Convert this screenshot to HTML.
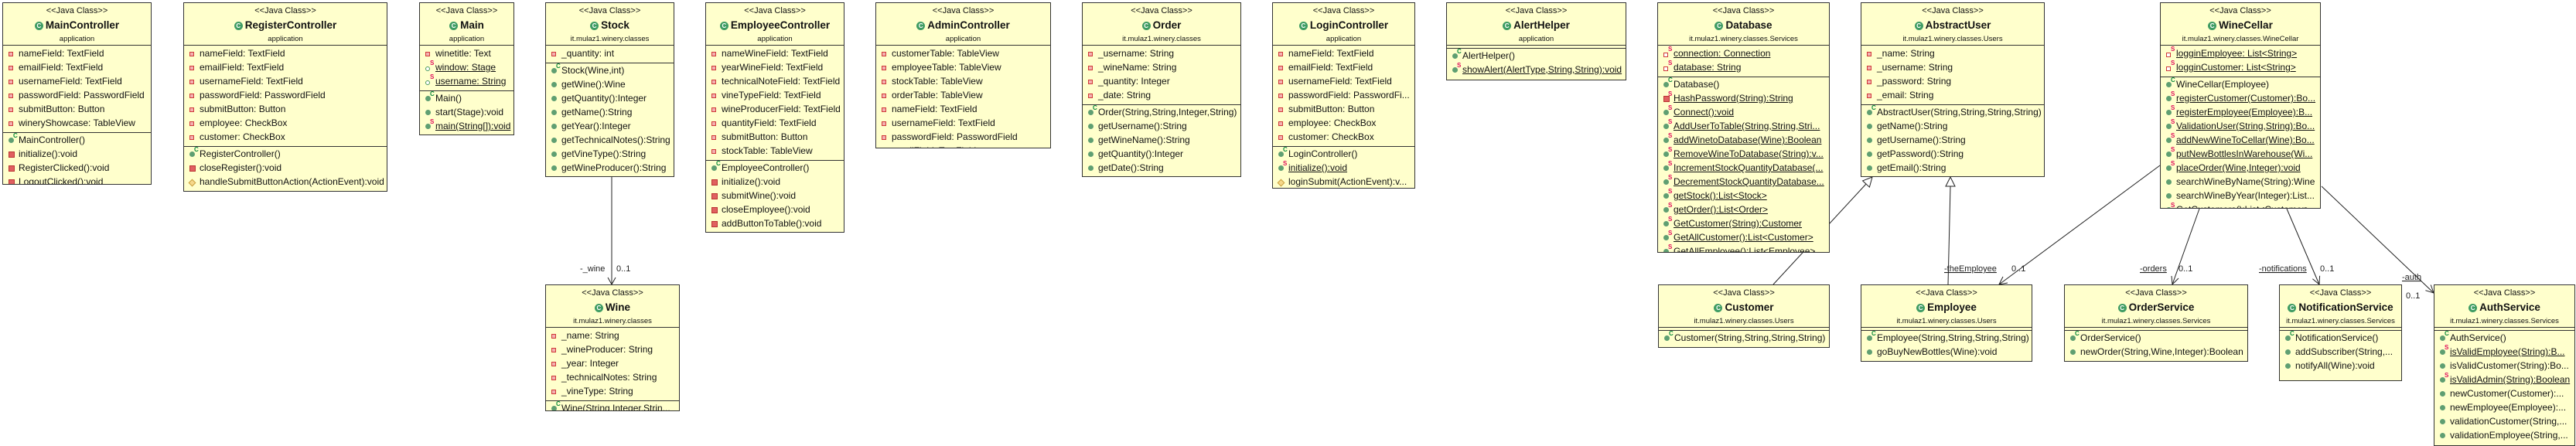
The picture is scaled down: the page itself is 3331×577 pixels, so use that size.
<!DOCTYPE html>
<html><head><meta charset="utf-8">
<style>
html,body{margin:0;padding:0;background:#fff;}
body{width:3331px;height:577px;position:relative;overflow:hidden;font-family:"Liberation Sans",Arial,sans-serif;color:#111;}
.b{position:absolute;box-sizing:border-box;background:#ffffcc;border:1px solid #333;overflow:hidden;}
.h{height:54px;border-bottom:1px solid #333;text-align:center;position:relative;}
.h .st{position:absolute;left:0;right:0;top:4px;font-size:11px;line-height:12px;}
.h .nm{position:absolute;left:0;right:0;top:20px;font-size:13.5px;font-weight:bold;line-height:18px;white-space:nowrap;}
.h .nm em{display:inline-block;width:11px;height:11px;border-radius:50%;background:#3f9c63;color:#fff;font-style:normal;font-size:8px;line-height:11px;vertical-align:1px;margin-right:3px;text-align:center;}
.h .pk{position:absolute;left:0;right:0;top:41px;font-size:9.5px;line-height:11px;white-space:nowrap;}
.s{border-bottom:1px solid #333;padding:1px 0 3px 0;}
.s.e{padding:0;height:3px;}
.r{position:relative;height:18px;line-height:18px;padding-left:20px;white-space:nowrap;font-size:12px;}
.r i{position:absolute;left:7px;top:7px;width:5px;height:5px;}
.f i{background:#f3b0b0;border:1px solid #d03a3a;width:4px;height:4px;}
.m i{background:#5f9f72;border-radius:50%;width:7px;height:7px;top:6px;}
.p i{background:#e06060;border:1px solid #b33;width:6px;height:6px;top:6px;}
.d i{background:#f6d88a;border:1px solid #c9a040;transform:rotate(45deg);width:5px;height:5px;}
.fs i{background:#fff;border:1px solid #4a9a60;border-radius:50%;width:4px;height:4px;top:8px;}
.fsp i{background:#fff;border:1px solid #d03a3a;width:4px;height:4px;top:8px;}
.r sup{position:absolute;left:13px;top:-5px;font-size:8px;font-weight:bold;}
.c sup{color:#0a8a3a;}
.z sup{color:#e0105a;}
.r u{text-decoration:underline;}
svg{position:absolute;left:0;top:0;}
</style></head><body>

<svg width="3331" height="577" viewBox="0 0 3331 577" font-family="Liberation Sans, Arial, sans-serif" font-size="11">
<g stroke="#222" stroke-width="1" fill="none">
<line x1="791" y1="229" x2="791" y2="368"/>
<polyline points="786,359 791,368 796,359"/>
<line x1="2293" y1="368" x2="2413" y2="238"/>
<polygon points="2421,229 2417.4,242.1 2408.6,233.9" fill="#fff"/>
<line x1="2519" y1="368" x2="2522" y2="241"/>
<polygon points="2522,229 2516,241 2528,241" fill="#fff"/>
<line x1="2793" y1="214" x2="2585" y2="368"/>
<polyline points="2596,366 2585,368 2590,358"/>
<line x1="2844" y1="270" x2="2809" y2="368"/>
<polyline points="2817,360 2809,368 2808,357"/>
<line x1="2957" y1="270" x2="2999" y2="368"/>
<polyline points="2999.6,356.8 2999,368 2990.4,360.8"/>
<line x1="3002" y1="241" x2="3147" y2="379"/>
<polyline points="3143.2,368.5 3147,379 3136.4,375.7"/>
</g>
<g fill="#222">
<text x="750" y="351">-_wine</text><text x="797" y="351">0..1</text>
<text x="2514" y="351" text-decoration="underline">-theEmployee</text><text x="2601" y="351">0..1</text>
<text x="2767" y="351" text-decoration="underline">-orders</text><text x="2817" y="351">0..1</text>
<text x="2921" y="351" text-decoration="underline">-notifications</text><text x="3000" y="351">0..1</text>
<text x="3106" y="362" text-decoration="underline">-auth</text><text x="3111" y="386">0..1</text>
</g>
</svg>

<!-- MainController -->
<div class="b" style="left:3px;top:3px;width:193px;height:236px;">
<div class="h"><div class="st">&lt;&lt;Java Class&gt;&gt;</div><div class="nm"><em>C</em>MainController</div><div class="pk">application</div></div>
<div class="s">
<div class="r f"><i></i>nameField: TextField</div>
<div class="r f"><i></i>emailField: TextField</div>
<div class="r f"><i></i>usernameField: TextField</div>
<div class="r f"><i></i>passwordField: PasswordField</div>
<div class="r f"><i></i>submitButton: Button</div>
<div class="r f"><i></i>wineryShowcase: TableView</div>
</div>
<div>
<div class="r m c"><i></i><sup>C</sup>MainController()</div>
<div class="r p"><i></i>initialize():void</div>
<div class="r p"><i></i>RegisterClicked():void</div>
<div class="r p"><i></i>LogoutClicked():void</div>
</div></div>

<!-- RegisterController -->
<div class="b" style="left:237px;top:3px;width:264px;height:245px;">
<div class="h"><div class="st">&lt;&lt;Java Class&gt;&gt;</div><div class="nm"><em>C</em>RegisterController</div><div class="pk">application</div></div>
<div class="s">
<div class="r f"><i></i>nameField: TextField</div>
<div class="r f"><i></i>emailField: TextField</div>
<div class="r f"><i></i>usernameField: TextField</div>
<div class="r f"><i></i>passwordField: PasswordField</div>
<div class="r f"><i></i>submitButton: Button</div>
<div class="r f"><i></i>employee: CheckBox</div>
<div class="r f"><i></i>customer: CheckBox</div>
</div>
<div>
<div class="r m c"><i></i><sup>C</sup>RegisterController()</div>
<div class="r p"><i></i>closeRegister():void</div>
<div class="r d"><i></i>handleSubmitButtonAction(ActionEvent):void</div>
</div></div>

<!-- Main -->
<div class="b" style="left:542px;top:3px;width:123px;height:172px;">
<div class="h"><div class="st">&lt;&lt;Java Class&gt;&gt;</div><div class="nm"><em>C</em>Main</div><div class="pk">application</div></div>
<div class="s">
<div class="r f"><i></i>winetitle: Text</div>
<div class="r fs z"><i></i><sup>S</sup><u>window: Stage</u></div>
<div class="r fs z"><i></i><sup>S</sup><u>username: String</u></div>
</div>
<div>
<div class="r m c"><i></i><sup>C</sup>Main()</div>
<div class="r m"><i></i>start(Stage):void</div>
<div class="r m z"><i></i><sup>S</sup><u>main(String[]):void</u></div>
</div></div>

<!-- Stock -->
<div class="b" style="left:705px;top:3px;width:167px;height:226px;">
<div class="h"><div class="st">&lt;&lt;Java Class&gt;&gt;</div><div class="nm"><em>C</em>Stock</div><div class="pk">it.mulaz1.winery.classes</div></div>
<div class="s">
<div class="r f"><i></i>_quantity: int</div>
</div>
<div>
<div class="r m c"><i></i><sup>C</sup>Stock(Wine,int)</div>
<div class="r m"><i></i>getWine():Wine</div>
<div class="r m"><i></i>getQuantity():Integer</div>
<div class="r m"><i></i>getName():String</div>
<div class="r m"><i></i>getYear():Integer</div>
<div class="r m"><i></i>getTechnicalNotes():String</div>
<div class="r m"><i></i>getVineType():String</div>
<div class="r m"><i></i>getWineProducer():String</div>
</div></div>

<!-- Wine -->
<div class="b" style="left:705px;top:368px;width:174px;height:164px;">
<div class="h"><div class="st">&lt;&lt;Java Class&gt;&gt;</div><div class="nm"><em>C</em>Wine</div><div class="pk">it.mulaz1.winery.classes</div></div>
<div class="s">
<div class="r f"><i></i>_name: String</div>
<div class="r f"><i></i>_wineProducer: String</div>
<div class="r f"><i></i>_year: Integer</div>
<div class="r f"><i></i>_technicalNotes: String</div>
<div class="r f"><i></i>_vineType: String</div>
</div>
<div>
<div class="r m c"><i></i><sup>C</sup>Wine(String,Integer,Strin...</div>
</div></div>

<!-- EmployeeController -->
<div class="b" style="left:912px;top:3px;width:180px;height:298px;">
<div class="h"><div class="st">&lt;&lt;Java Class&gt;&gt;</div><div class="nm"><em>C</em>EmployeeController</div><div class="pk">application</div></div>
<div class="s">
<div class="r f"><i></i>nameWineField: TextField</div>
<div class="r f"><i></i>yearWineField: TextField</div>
<div class="r f"><i></i>technicalNoteField: TextField</div>
<div class="r f"><i></i>vineTypeField: TextField</div>
<div class="r f"><i></i>wineProducerField: TextField</div>
<div class="r f"><i></i>quantityField: TextField</div>
<div class="r f"><i></i>submitButton: Button</div>
<div class="r f"><i></i>stockTable: TableView</div>
</div>
<div>
<div class="r m c"><i></i><sup>C</sup>EmployeeController()</div>
<div class="r p"><i></i>initialize():void</div>
<div class="r p"><i></i>submitWine():void</div>
<div class="r p"><i></i>closeEmployee():void</div>
<div class="r p"><i></i>addButtonToTable():void</div>
</div></div>

<!-- AdminController -->
<div class="b" style="left:1132px;top:3px;width:227px;height:189px;">
<div class="h"><div class="st">&lt;&lt;Java Class&gt;&gt;</div><div class="nm"><em>C</em>AdminController</div><div class="pk">application</div></div>
<div class="s">
<div class="r f"><i></i>customerTable: TableView</div>
<div class="r f"><i></i>employeeTable: TableView</div>
<div class="r f"><i></i>stockTable: TableView</div>
<div class="r f"><i></i>orderTable: TableView</div>
<div class="r f"><i></i>nameField: TextField</div>
<div class="r f"><i></i>usernameField: TextField</div>
<div class="r f"><i></i>passwordField: PasswordField</div>
<div class="r f"><i></i>emailField: TextField</div>
</div></div>

<!-- Order -->
<div class="b" style="left:1399px;top:3px;width:206px;height:226px;">
<div class="h"><div class="st">&lt;&lt;Java Class&gt;&gt;</div><div class="nm"><em>C</em>Order</div><div class="pk">it.mulaz1.winery.classes</div></div>
<div class="s">
<div class="r f"><i></i>_username: String</div>
<div class="r f"><i></i>_wineName: String</div>
<div class="r f"><i></i>_quantity: Integer</div>
<div class="r f"><i></i>_date: String</div>
</div>
<div>
<div class="r m c"><i></i><sup>C</sup>Order(String,String,Integer,String)</div>
<div class="r m"><i></i>getUsername():String</div>
<div class="r m"><i></i>getWineName():String</div>
<div class="r m"><i></i>getQuantity():Integer</div>
<div class="r m"><i></i>getDate():String</div>
</div></div>

<!-- LoginController -->
<div class="b" style="left:1645px;top:3px;width:185px;height:241px;">
<div class="h"><div class="st">&lt;&lt;Java Class&gt;&gt;</div><div class="nm"><em>C</em>LoginController</div><div class="pk">application</div></div>
<div class="s">
<div class="r f"><i></i>nameField: TextField</div>
<div class="r f"><i></i>emailField: TextField</div>
<div class="r f"><i></i>usernameField: TextField</div>
<div class="r f"><i></i>passwordField: PasswordFi...</div>
<div class="r f"><i></i>submitButton: Button</div>
<div class="r f"><i></i>employee: CheckBox</div>
<div class="r f"><i></i>customer: CheckBox</div>
</div>
<div>
<div class="r m c"><i></i><sup>C</sup>LoginController()</div>
<div class="r m z"><i></i><sup>S</sup><u>initialize():void</u></div>
<div class="r d"><i></i>loginSubmit(ActionEvent):v...</div>
</div></div>

<!-- AlertHelper -->
<div class="b" style="left:1870px;top:3px;width:233px;height:101px;">
<div class="h"><div class="st">&lt;&lt;Java Class&gt;&gt;</div><div class="nm"><em>C</em>AlertHelper</div><div class="pk">application</div></div>
<div class="s e"></div>
<div>
<div class="r m c"><i></i><sup>C</sup>AlertHelper()</div>
<div class="r m z"><i></i><sup>S</sup><u>showAlert(AlertType,String,String):void</u></div>
</div></div>

<!-- Database -->
<div class="b" style="left:2143px;top:3px;width:223px;height:324px;">
<div class="h"><div class="st">&lt;&lt;Java Class&gt;&gt;</div><div class="nm"><em>C</em>Database</div><div class="pk">it.mulaz1.winery.classes.Services</div></div>
<div class="s">
<div class="r fsp z"><i></i><sup>S</sup><u>connection: Connection</u></div>
<div class="r fsp z"><i></i><sup>S</sup><u>database: String</u></div>
</div>
<div>
<div class="r m c"><i></i><sup>C</sup>Database()</div>
<div class="r p z"><i></i><sup>S</sup><u>HashPassword(String):String</u></div>
<div class="r m z"><i></i><sup>S</sup><u>Connect():void</u></div>
<div class="r m z"><i></i><sup>S</sup><u>AddUserToTable(String,String,Stri...</u></div>
<div class="r m z"><i></i><sup>S</sup><u>addWinetoDatabase(Wine):Boolean</u></div>
<div class="r m z"><i></i><sup>S</sup><u>RemoveWineToDatabase(String):v...</u></div>
<div class="r m z"><i></i><sup>S</sup><u>IncrementStockQuantityDatabase(...</u></div>
<div class="r m z"><i></i><sup>S</sup><u>DecrementStockQuantityDatabase...</u></div>
<div class="r m z"><i></i><sup>S</sup><u>getStock():List&lt;Stock&gt;</u></div>
<div class="r m z"><i></i><sup>S</sup><u>getOrder():List&lt;Order&gt;</u></div>
<div class="r m z"><i></i><sup>S</sup><u>GetCustomer(String):Customer</u></div>
<div class="r m z"><i></i><sup>S</sup><u>GetAllCustomer():List&lt;Customer&gt;</u></div>
<div class="r m z"><i></i><sup>S</sup><u>GetAllEmployee():List&lt;Employee&gt;</u></div>
</div></div>

<!-- Customer -->
<div class="b" style="left:2144px;top:368px;width:222px;height:82px;">
<div class="h"><div class="st">&lt;&lt;Java Class&gt;&gt;</div><div class="nm"><em>C</em>Customer</div><div class="pk">it.mulaz1.winery.classes.Users</div></div>
<div class="s e"></div>
<div>
<div class="r m c"><i></i><sup>C</sup>Customer(String,String,String,String)</div>
</div></div>

<!-- AbstractUser -->
<div class="b" style="left:2406px;top:3px;width:238px;height:226px;">
<div class="h"><div class="st">&lt;&lt;Java Class&gt;&gt;</div><div class="nm"><em>C</em>AbstractUser</div><div class="pk">it.mulaz1.winery.classes.Users</div></div>
<div class="s">
<div class="r f"><i></i>_name: String</div>
<div class="r f"><i></i>_username: String</div>
<div class="r f"><i></i>_password: String</div>
<div class="r f"><i></i>_email: String</div>
</div>
<div>
<div class="r m c"><i></i><sup>C</sup>AbstractUser(String,String,String,String)</div>
<div class="r m"><i></i>getName():String</div>
<div class="r m"><i></i>getUsername():String</div>
<div class="r m"><i></i>getPassword():String</div>
<div class="r m"><i></i>getEmail():String</div>
</div></div>

<!-- Employee -->
<div class="b" style="left:2406px;top:368px;width:222px;height:100px;">
<div class="h"><div class="st">&lt;&lt;Java Class&gt;&gt;</div><div class="nm"><em>C</em>Employee</div><div class="pk">it.mulaz1.winery.classes.Users</div></div>
<div class="s e"></div>
<div>
<div class="r m c"><i></i><sup>C</sup>Employee(String,String,String,String)</div>
<div class="r m"><i></i>goBuyNewBottles(Wine):void</div>
</div></div>

<!-- WineCellar -->
<div class="b" style="left:2793px;top:3px;width:208px;height:267px;">
<div class="h"><div class="st">&lt;&lt;Java Class&gt;&gt;</div><div class="nm"><em>C</em>WineCellar</div><div class="pk">it.mulaz1.winery.classes.WineCellar</div></div>
<div class="s">
<div class="r fsp z"><i></i><sup>S</sup><u>logginEmployee: List&lt;String&gt;</u></div>
<div class="r fsp z"><i></i><sup>S</sup><u>logginCustomer: List&lt;String&gt;</u></div>
</div>
<div>
<div class="r m c"><i></i><sup>C</sup>WineCellar(Employee)</div>
<div class="r m z"><i></i><sup>S</sup><u>registerCustomer(Customer):Bo...</u></div>
<div class="r m z"><i></i><sup>S</sup><u>registerEmployee(Employee):B...</u></div>
<div class="r m z"><i></i><sup>S</sup><u>ValidationUser(String,String):Bo...</u></div>
<div class="r m z"><i></i><sup>S</sup><u>addNewWineToCellar(Wine):Bo...</u></div>
<div class="r m z"><i></i><sup>S</sup><u>putNewBottlesInWarehouse(Wi...</u></div>
<div class="r m z"><i></i><sup>S</sup><u>placeOrder(Wine,Integer):void</u></div>
<div class="r m"><i></i>searchWineByName(String):Wine</div>
<div class="r m"><i></i>searchWineByYear(Integer):List...</div>
<div class="r m z"><i></i><sup>S</sup><u>GetCustomers():List&lt;Customer&gt;</u></div>
</div></div>

<!-- OrderService -->
<div class="b" style="left:2669px;top:368px;width:238px;height:100px;">
<div class="h"><div class="st">&lt;&lt;Java Class&gt;&gt;</div><div class="nm"><em>C</em>OrderService</div><div class="pk">it.mulaz1.winery.classes.Services</div></div>
<div class="s e"></div>
<div>
<div class="r m c"><i></i><sup>C</sup>OrderService()</div>
<div class="r m"><i></i>newOrder(String,Wine,Integer):Boolean</div>
</div></div>

<!-- NotificationService -->
<div class="b" style="left:2947px;top:368px;width:159px;height:125px;">
<div class="h"><div class="st">&lt;&lt;Java Class&gt;&gt;</div><div class="nm"><em>C</em>NotificationService</div><div class="pk">it.mulaz1.winery.classes.Services</div></div>
<div class="s e"></div>
<div>
<div class="r m c"><i></i><sup>C</sup>NotificationService()</div>
<div class="r m"><i></i>addSubscriber(String,...</div>
<div class="r m"><i></i>notifyAll(Wine):void</div>
</div></div>

<!-- AuthService -->
<div class="b" style="left:3147px;top:368px;width:183px;height:209px;">
<div class="h"><div class="st">&lt;&lt;Java Class&gt;&gt;</div><div class="nm"><em>C</em>AuthService</div><div class="pk">it.mulaz1.winery.classes.Services</div></div>
<div class="s e"></div>
<div>
<div class="r m c"><i></i><sup>C</sup>AuthService()</div>
<div class="r m z"><i></i><sup>S</sup><u>isValidEmployee(String):B...</u></div>
<div class="r m"><i></i>isValidCustomer(String):Bo...</div>
<div class="r m z"><i></i><sup>S</sup><u>isValidAdmin(String):Boolean</u></div>
<div class="r m"><i></i>newCustomer(Customer):...</div>
<div class="r m"><i></i>newEmployee(Employee):...</div>
<div class="r m"><i></i>validationCustomer(String,...</div>
<div class="r m"><i></i>validationEmployee(String,...</div>
</div></div>

</body></html>
